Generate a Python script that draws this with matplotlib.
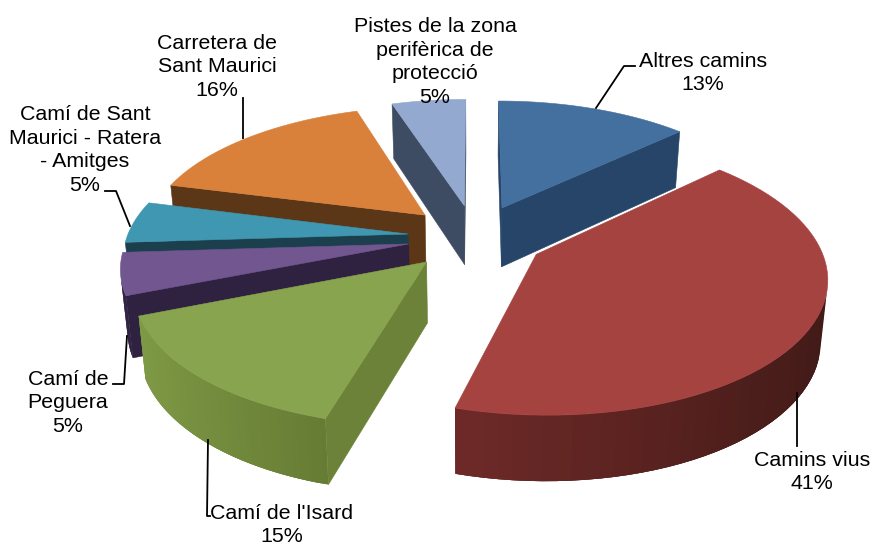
import numpy as np
import matplotlib
matplotlib.use("Agg")
import matplotlib.pyplot as plt

plt.rcParams['font.family'] = ['Liberation Sans', 'DejaVu Sans']

# data
noms = ["Altres camins", "Camins vius", "Camí de l'Isard", "Camí de\nPeguera",
        "Camí de Sant\nMaurici - Ratera\n- Amitges", "Carretera de\nSant Maurici",
        "Pistes de la zona\nperifèrica de\nprotecció"]
valors = [13, 41.4, 14.6, 5, 5, 16, 5]

# colours: top, radial side, arc side left, arc side right
color_top = ["#44709f", "#a54341", "#88a44e", "#71568f", "#3f97b1", "#d9813b", "#93a9cf"]
color_radial = ["#264568", "#4a1d1a", "#6b8238", "#2f2140", "#1b3f4c", "#5c3717", "#3e4c63"]
color_arc_l = ["#264568", "#6f2a28", "#7f9a46", "#2f2140", "#1b3f4c", "#5c3717", "#3e4c63"]
color_arc_r = ["#264568", "#401a17", "#667c34", "#2f2140", "#1b3f4c", "#5c3717", "#3e4c63"]

# label centres and leader lines (pixels)
label_x = [703, 812, 282, 68, 85, 217, 435]
label_y = [73, 472, 525, 403, 150, 67, 62]
leaders = [[(596, 108), (624, 66), (635, 66)],
           [(797, 393), (797, 446)],
           [(208, 440), (207, 516), (210, 516)],
           [(127, 336), (124, 384), (113, 384)],
           [(130, 226), (116, 191), (105, 191)],
           [(243, 138), (243, 98)],
           []]

# projection of the tilted pie
cx, cy = 475, 237
R, S, D = 281, 131, 60
k = 0.15
k_depth = 0.08
shrink = 0.02  # bottom face is a bit narrower than the top one
explode = [0.25, 0.25, 0.25, 0.24, 0.24, 0.25, 0.25]


def proj(x, y, z):
    w = 1 + k * y
    return (cx + R * x * (1 - shrink * (1 - z)) / w,
            cy - S * y / w + D * (1 - z) / (1 + k_depth * y))


def area(pts):
    p = np.array(pts)
    x, y = p[:, 0], p[:, 1]
    return 0.5 * np.sum(x * np.roll(y, -1) - np.roll(x, -1) * y)


def mix(c1, c2, t):
    a = np.array(matplotlib.colors.to_rgb(c1))
    b = np.array(matplotlib.colors.to_rgb(c2))
    return tuple(a + (b - a) * t)


fig = plt.figure(figsize=(8.72, 5.47), dpi=100)
ax = fig.add_axes([0, 0, 1, 1])
ax.set_xlim(0, 872)
ax.set_ylim(547, 0)
ax.axis('off')

angles = np.cumsum([0] + valors) / sum(valors) * 2 * np.pi
# painter order, back slices first
ordre = [6, 0, 5, 4, 3, 2, 1]

for i in ordre:
    a0, a1 = angles[i], angles[i + 1]
    mid = (a0 + a1) / 2
    ox, oy = explode[i] * np.sin(mid), explode[i] * np.cos(mid)
    th = np.linspace(a0, a1, 60)
    xs = ox + np.sin(th)
    ys = oy + np.cos(th)

    # radial faces (only the ones looking at the viewer)
    for t in (a0, a1):
        x1, y1 = ox + np.sin(t), oy + np.cos(t)
        quad = [proj(ox, oy, 1), proj(x1, y1, 1), proj(x1, y1, 0), proj(ox, oy, 0)]
        vis = area(quad) < 0 if t == a0 else area(quad) > 0
        if vis:
            ax.fill(*zip(*quad), color=color_radial[i], lw=0.4)

    # outer wall in small strips, shaded from left to right
    # each strip reaches over the next one so no seams show
    xmin, xmax = xs.min(), xs.max()
    n = len(th) - 1
    for j in range(n):
        e = min(j + 3, n)
        quad = [proj(xs[j], ys[j], 1), proj(xs[j + 1], ys[j + 1], 1),
                proj(xs[j + 1], ys[j + 1], 0), proj(xs[j], ys[j], 0)]
        if area(quad) < 0:
            t = (xs[j] - xmin) / (xmax - xmin)
            seg = [proj(xs[m], ys[m], 1) for m in range(j, e + 1)]
            seg += [proj(xs[m], ys[m], 0) for m in range(e, j - 1, -1)]
            ax.fill(*zip(*seg), color=mix(color_arc_l[i], color_arc_r[i], t), lw=0)

    # top of the slice
    top = [proj(ox, oy, 1)] + [proj(a, b, 1) for a, b in zip(xs, ys)]
    ax.fill(*zip(*top), color=color_top[i], lw=0.4)

for linia in leaders:
    if linia:
        ax.plot(*zip(*linia), color='black', lw=1.3, solid_joinstyle='round')

for nom, v, x, y in zip(noms, valors, label_x, label_y):
    ax.text(x, y, f"{nom}\n{v:.0f}%", ha='center', va='center', fontsize=15.4,
            color='black', linespacing=1.33)

fig.savefig("out.png", dpi=100)
